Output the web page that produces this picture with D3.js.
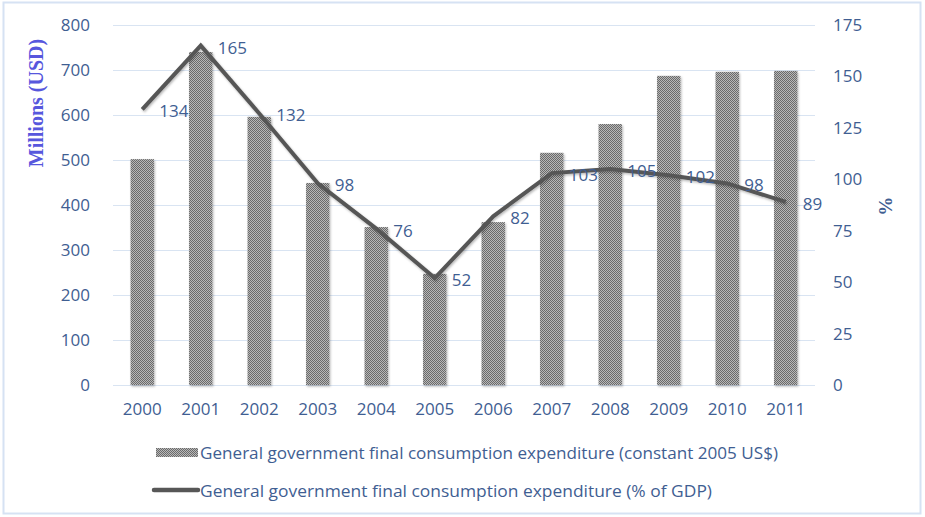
<!DOCTYPE html>
<html>
<head>
<meta charset="utf-8">
<script src="https://cdn.jsdelivr.net/npm/d3@7"></script>
<style>
  html, body { margin: 0; padding: 0; background: #fff; }
  svg { display: block; }
</style>
</head>
<body>
<svg id="chart" width="925" height="517"></svg>
<script>
// Government consumption: absolute spending (bars) and share of GDP (line)
const years = ["2000","2001","2002","2003","2004","2005","2006","2007","2008","2009","2010","2011"];
const spendingMillions = [502, 740, 596, 449, 351, 247, 362, 516, 580, 687, 696, 698];
const shareOfGdp = [134, 165, 132, 98, 76, 52, 82, 103, 105, 102, 98, 89];
const leftTicks = [0, 100, 200, 300, 400, 500, 600, 700, 800];
const rightTicks = [0, 25, 50, 75, 100, 125, 150, 175];
const barLabel = "General government final consumption expenditure (constant 2005 US$)";
const lineLabel = "General government final consumption expenditure (% of GDP)";

const textColor = "#3f5e92";
const font = "'Open Sans', 'Noto Sans', sans-serif";
const fs = 17;

const svg = d3.select("#chart");
const plot = { left: 113, right: 815, top: 25, bottom: 385 };

// Chart frame
svg.append("rect")
  .attr("x", 3.5).attr("y", 2.5).attr("width", 917).attr("height", 511)
  .attr("fill", "#fff").attr("stroke", "#d6e2f3").attr("stroke-width", 2);

// Fine checkerboard fill for the bars
const defs = svg.append("defs");
const pat = defs.append("pattern")
  .attr("id", "checker").attr("patternUnits", "userSpaceOnUse")
  .attr("width", 2).attr("height", 2);
pat.append("rect").attr("width", 2).attr("height", 2).attr("fill", "#b8b8b8");
pat.append("rect").attr("x", 0).attr("y", 0).attr("width", 1).attr("height", 1).attr("fill", "#6a6a6a");
pat.append("rect").attr("x", 1).attr("y", 1).attr("width", 1).attr("height", 1).attr("fill", "#6a6a6a");

const shadow = defs.append("filter").attr("id", "shadow")
  .attr("x", "-20%").attr("y", "-20%").attr("width", "140%").attr("height", "140%");
shadow.append("feDropShadow").attr("dx", 1).attr("dy", 1.5).attr("stdDeviation", 1.2)
  .attr("flood-color", "#000").attr("flood-opacity", 0.28);

const x = d3.scaleBand().domain(years).range([plot.left, plot.right]).paddingInner(0.6).paddingOuter(0.3);
const yL = d3.scaleLinear().domain([0, 800]).range([plot.bottom, plot.top]);
const yR = d3.scaleLinear().domain([0, 175]).range([plot.bottom, plot.top]);

// Gridlines
svg.append("g").selectAll("line").data(leftTicks).join("line")
  .attr("x1", plot.left).attr("x2", plot.right)
  .attr("y1", d => Math.round(yL(d)) + 0.5).attr("y2", d => Math.round(yL(d)) + 0.5)
  .attr("stroke", "#d9e4f2").attr("stroke-width", 1);

// Left axis
const axL = svg.append("g").attr("transform", `translate(${plot.left},0)`)
  .call(d3.axisLeft(yL).tickValues(leftTicks).tickSize(0).tickPadding(23));
axL.select(".domain").remove();
axL.selectAll("text").attr("fill", textColor).style("font", `${fs}px ${font}`);

// Right axis
const axR = svg.append("g").attr("transform", `translate(${plot.right},0)`)
  .call(d3.axisRight(yR).tickValues(rightTicks).tickSize(0).tickPadding(18));
axR.select(".domain").remove();
axR.selectAll("text").attr("fill", textColor).style("font", `${fs}px ${font}`);

// Bottom axis
const axB = svg.append("g").attr("transform", `translate(0,${plot.bottom})`)
  .call(d3.axisBottom(x).tickSize(0).tickPadding(18));
axB.select(".domain").remove();
axB.selectAll("text").attr("fill", textColor).style("font", `${fs}px ${font}`);

// Bars
svg.append("g").selectAll("rect").data(years).join("rect")
  .attr("x", d => x(d))
  .attr("y", (d, i) => yL(spendingMillions[i]))
  .attr("width", x.bandwidth())
  .attr("height", (d, i) => plot.bottom - yL(spendingMillions[i]))
  .attr("fill", "url(#checker)")
  .attr("filter", "url(#shadow)");

// Line
const cx = d => x(d) + x.bandwidth() / 2;
const line = d3.line().x((d, i) => cx(years[i])).y(d => yR(d));
svg.append("path").datum(shareOfGdp)
  .attr("d", line)
  .attr("fill", "none").attr("stroke", "#575757").attr("stroke-width", 4)
  .attr("stroke-linejoin", "miter").attr("filter", "url(#shadow)");

// Value labels
svg.append("g").selectAll("text").data(shareOfGdp).join("text")
  .attr("x", (d, i) => cx(years[i]) + 17)
  .attr("y", d => yR(d) + 8)
  .attr("fill", textColor)
  .style("font", `${fs}px ${font}`)
  .text(d => d);

// Axis titles
svg.append("text")
  .attr("transform", "translate(43,103) rotate(-90)")
  .attr("text-anchor", "middle")
  .attr("fill", "#5757dd")
  .style("font", "bold 20px 'Liberation Serif', 'DejaVu Serif', serif")
  .text("Millions (USD)");
svg.append("text")
  .attr("transform", "translate(879,206) rotate(90)")
  .attr("text-anchor", "middle")
  .attr("fill", textColor)
  .style("font", "bold 19px 'Liberation Serif', serif")
  .text("%");

// Legend
const lg = svg.append("g");
lg.append("rect").attr("x", 156).attr("y", 448).attr("width", 42).attr("height", 9).attr("fill", "url(#checker)");
lg.append("text").attr("x", 200).attr("y", 459).attr("fill", textColor)
  .style("font", `${fs}px ${font}`).attr("textLength", 578).attr("lengthAdjust", "spacingAndGlyphs").text(barLabel);
lg.append("line").attr("x1", 154).attr("x2", 198).attr("y1", 490).attr("y2", 490)
  .attr("stroke", "#575757").attr("stroke-width", 4.5).attr("stroke-linecap", "round");
lg.append("text").attr("x", 200).attr("y", 497).attr("fill", textColor)
  .style("font", `${fs}px ${font}`).attr("textLength", 512).attr("lengthAdjust", "spacingAndGlyphs").text(lineLabel);
</script>
</body>
</html>
